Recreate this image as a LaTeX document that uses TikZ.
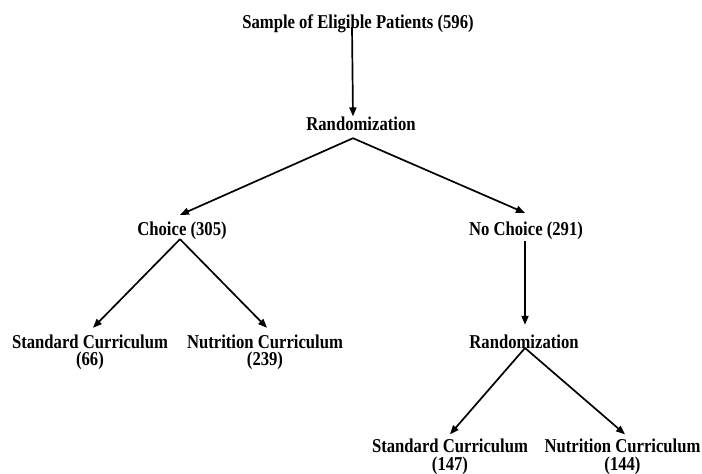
\documentclass[tikz,border=0pt]{standalone}
\usepackage{fontspec}
\newfontfamily\labfont{Liberation Serif}[FakeStretch=0.85]
\usetikzlibrary{arrows.meta}
\tikzset{
  lab/.style={inner sep=0pt, outer sep=0pt, align=center, anchor=base,
    font=\labfont\bfseries\fontsize{19.6}{17.5}\selectfont},
  arr/.style={draw=black, line width=1.7pt, -{Triangle[length=9pt,width=7pt]}}
}
\begin{document}
\begin{tikzpicture}[x=1pt,y=-1pt]
\useasboundingbox (0,0) rectangle (702,474);
\fill[white] (0,0) rectangle (702,474);
\node[lab] (top) at (358,28) {Sample of Eligible Patients (596)};
\node[lab] (rand1) at (361,130) {Randomization};
\node[lab] (choice) at (182,235) {Choice (305)};
\node[lab] (nochoice) at (526,235) {No Choice (291)};
\node[lab] (stdL) at (90,365.5) {Standard Curriculum\\(66)};
\node[lab] (nutL) at (265,365.5) {Nutrition Curriculum\\(239)};
\node[lab] (rand2) at (524,348) {Randomization};
\node[lab] (stdR) at (450,470) {Standard Curriculum\\(147)};
\node[lab] (nutR) at (622.5,470) {Nutrition Curriculum\\(144)};

\draw[arr] ([xshift=-6pt,yshift=1pt]top.base) -- ([xshift=-8pt]rand1.north);
\draw[arr] ([xshift=-8pt,yshift=-8pt]rand1.south) -- ([xshift=-2pt,yshift=6.5pt]choice.north);
\draw[arr] ([xshift=-8pt,yshift=-8pt]rand1.south) -- ([xshift=-1pt,yshift=8.5pt]nochoice.north);
\draw[arr] ([xshift=-2pt]choice.south) -- ([xshift=3pt,yshift=6.6pt]stdL.north);
\draw[arr] ([xshift=-2pt]choice.south) -- ([xshift=2pt,yshift=6.6pt]nutL.north);
\draw[arr] ([xshift=-1pt,yshift=-1.4pt]nochoice.south) -- ([xshift=1pt,yshift=9.6pt]rand2.north);
\draw[arr] ([xshift=1pt]rand2.base) -- ([yshift=4.6pt]stdR.north);
\draw[arr] ([xshift=1pt]rand2.base) -- ([xshift=2.5pt,yshift=4.6pt]nutR.north);
\end{tikzpicture}
\end{document}
